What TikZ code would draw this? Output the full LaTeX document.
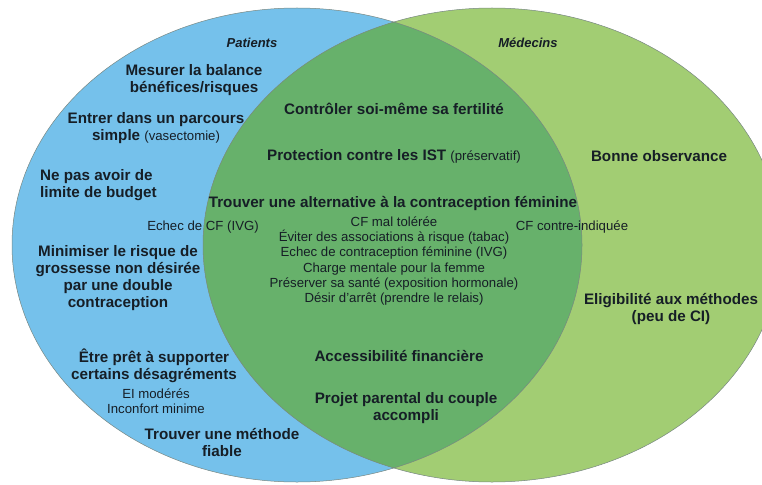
\documentclass[tikz,border=0pt]{standalone}
\usepackage{fontspec}
\setmainfont{Liberation Sans}
\usetikzlibrary{positioning}

\definecolor{patientblue}{RGB}{117,193,235}
\definecolor{medgreen}{RGB}{162,205,115}
\definecolor{bothgreen}{RGB}{103,177,107}
\definecolor{rimgray}{RGB}{120,135,130}
\definecolor{inktext}{RGB}{22,30,38}

\newcommand{\plainpart}[1]{{\mdseries\fontsize{13.2}{15}\selectfont #1}}

\begin{document}
\begin{tikzpicture}[x=1pt, y=-1pt,
bigtext/.style={align=center, font=\bfseries\fontsize{15.2}{17}\selectfont, text=inktext, inner sep=0pt},
smalltext/.style={align=center, font=\fontsize{13.2}{15.2}\selectfont, text=inktext, inner sep=0pt},
settitle/.style={font=\bfseries\itshape\fontsize{13}{15}\selectfont, text=inktext, inner sep=0pt},
rim/.style={draw=rimgray, line width=0.5pt}
]
\useasboundingbox (0,0) rectangle (762,484);
\clip (0,0) rectangle (762,484);

% the two sets
\fill[patientblue] (297,245) ellipse [x radius=285pt, y radius=237pt];
\fill[medgreen] (492,245) ellipse [x radius=289pt, y radius=237pt];
\begin{scope}
\clip (297,245) ellipse [x radius=285pt, y radius=237pt];
\fill[bothgreen] (492,245) ellipse [x radius=289pt, y radius=237pt];
\end{scope}
\draw[rim] (297,245) ellipse [x radius=285pt, y radius=237pt];
\draw[rim] (492,245) ellipse [x radius=289pt, y radius=237pt];

\node[settitle] (patients) at (252,43) {Patients};
\node[settitle] (medecins) at (528,43) {Médecins};

% patients only
\node[bigtext] (balance) at (194,80) {Mesurer la balance\\bénéfices/risques};
\node[bigtext] (parcours) at (156,128) {Entrer dans un parcours\\simple \plainpart{(vasectomie)}};
\node[bigtext, align=left, anchor=west] (budget) at (40,185) {Ne pas avoir de\\limite de budget};
\node[smalltext] (echecivg) at (203,227) {Echec de CF (IVG)};
\node[bigtext] (double) at (118,278) {Minimiser le risque de\\grossesse non désirée\\par une double\\contraception};
\node[bigtext] (supporter) at (154,366) {Être prêt à supporter\\certains désagréments};
\node[smalltext] (inconfort) at (156,401) {EI modérés\\Inconfort minime};
\node[bigtext] (fiable) at (222,442) {Trouver une méthode\\fiable};

% both
\node[bigtext] (fertilite) at (394,109) {Contrôler soi-même sa fertilité};
\node[bigtext] (ist) at (394,156) {Protection contre les IST \plainpart{(préservatif)}};
\node[bigtext] (alternative) at (393,204) {Trouver une alternative à la contraception féminine};
\node[smalltext] (raisons) at (394,261) {CF mal tolérée\\Éviter des associations à risque (tabac)\\Echec de contraception féminine (IVG)\\Charge mentale pour la femme\\Préserver sa santé (exposition hormonale)\\Désir d'arrêt (prendre le relais)};
\node[bigtext] (financiere) at (399,356) {Accessibilité financière};
\node[bigtext] (projet) at (406,408) {Projet parental du couple\\accompli};

% medecins only
\node[bigtext] (observance) at (659,156) {Bonne observance};
\node[smalltext] (contreind) at (572,227) {CF contre-indiquée};
\node[bigtext] (eligible) at (671,309) {Eligibilité aux méthodes\\(peu de CI)};
\end{tikzpicture}
\end{document}
